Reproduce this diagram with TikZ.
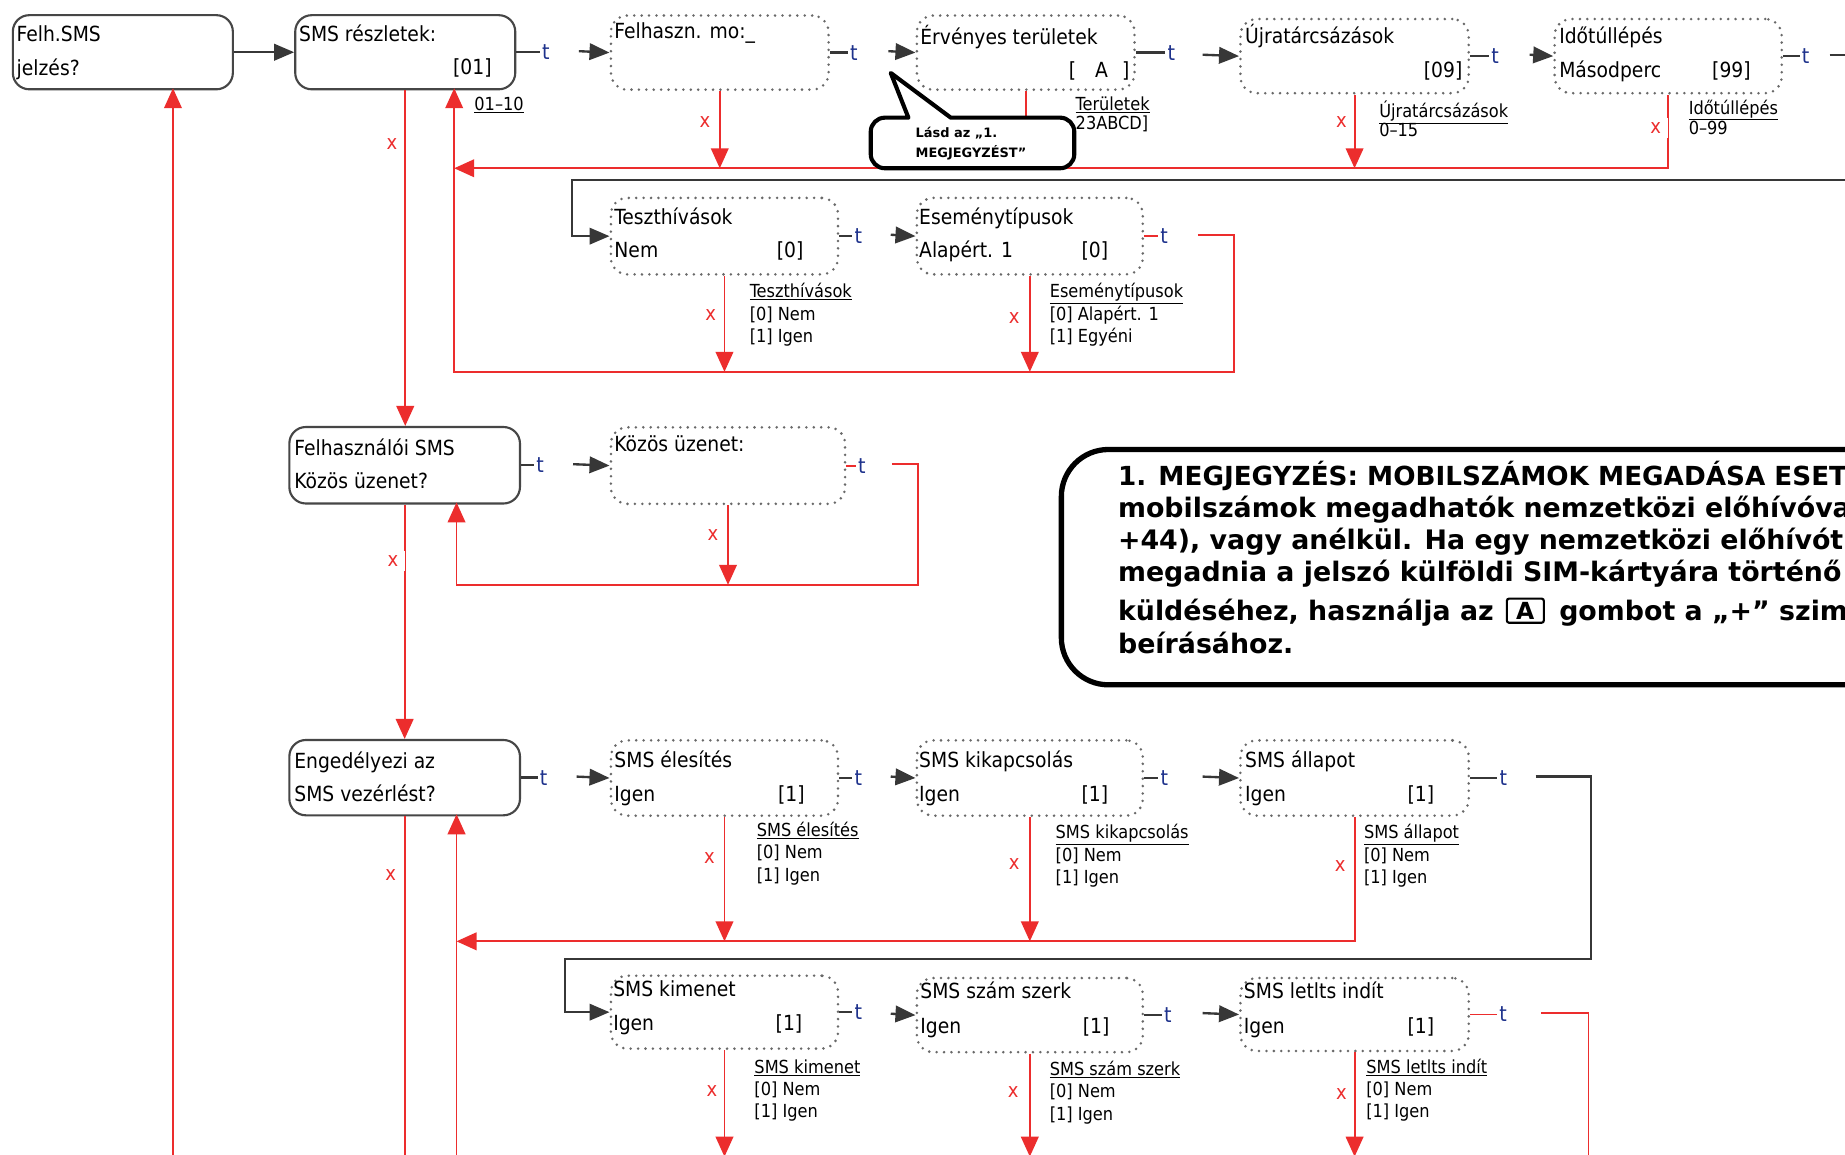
\documentclass[tikz,border=0pt]{standalone}
\usepackage{fontspec}
\setmainfont{DejaVu Sans Condensed}
\newfontfamily\boldsans{DejaVu Sans}
\usetikzlibrary{arrows.meta,calc}
\definecolor{myred}{RGB}{236,45,45}
\definecolor{boxgray}{RGB}{70,70,70}
\definecolor{dotgray}{RGB}{105,105,105}
\definecolor{lingray}{RGB}{55,55,55}
\definecolor{tblue}{RGB}{30,50,140}
\tikzset{
 solidbox/.style={draw=boxgray, line width=1.8pt, rounded corners=14pt, fill=white, inner sep=0pt},
 dotbox/.style={draw=dotgray, line width=2.4pt, dash pattern=on 0pt off 6.3pt, line cap=round, rounded corners=14pt, fill=white, inner sep=0pt},
 blk/.style={draw=lingray, line width=2pt},
 redl/.style={draw=myred, line width=1.6pt},
 redarr/.style={-{Triangle[width=15pt,length=17pt]}},
 blkarr/.style={-{Triangle[width=14pt,length=17pt]}},
 txt/.style={anchor=base west, inner sep=0pt, font=\fontsize{17.7}{19}\selectfont},
 txtr/.style={txt, anchor=base east},
 lbl/.style={anchor=base west, inner sep=0pt, font=\fontsize{15.3}{17}\selectfont},
 tlab/.style={anchor=west, inner sep=1pt, text=tblue, font=\fontsize{18}{19}\selectfont},
 xlab/.style={fill=white, text=myred, inner xsep=6pt, inner ysep=4pt, font=\fontsize{17}{18}\selectfont},
 notetxt/.style={anchor=base west, inner sep=0pt, font=\boldsans\bfseries\fontsize{22.8}{26}\selectfont},
 calltxt/.style={anchor=base west, inner sep=0pt, font=\boldsans\bfseries\fontsize{11}{13}\selectfont},
 keybox/.style={draw=black, line width=1.8pt, rounded corners=2pt, inner xsep=8pt, inner ysep=3pt, font=\boldsans\bfseries\fontsize{20}{22}\selectfont}
}
\newcommand\mkbox[6]{\node[#2, anchor=north west, minimum width={(#5-#3)*1pt}, minimum height={(#6-#4)*1pt}] (#1) at (#3,#4) {};}
\newcommand\optlbl[6]{\node[lbl] (#1a) at (#2,#3) {\underline{#4}};
 \node[lbl] (#1b) at (#2,#3+19) {#5};
 \node[lbl] (#1c) at (#2,#3+38) {#6};}
\begin{document}
\begin{tikzpicture}[x=1pt,y=-1pt]
\useasboundingbox (0,0) rectangle (1568,981);
\clip (0,0) rectangle (1568,981);
\fill[white] (0,0) rectangle (1568,981);

% ---------- boxes
\mkbox{A}{solidbox}{10}{12}{197}{75}
\mkbox{B}{solidbox}{250}{12}{437}{75}
\mkbox{C}{dotbox}{518}{12}{703}{75}
\mkbox{D}{dotbox}{778}{12}{963}{75}
\mkbox{E}{dotbox}{1053}{15}{1247}{78}
\mkbox{F}{dotbox}{1320}{15}{1513}{78}
\mkbox{G}{dotbox}{518}{167}{711}{232}
\mkbox{H}{dotbox}{778}{167}{970}{232}
\mkbox{I}{solidbox}{245}{362}{441}{427}
\mkbox{J}{dotbox}{518}{362}{717}{427}
\mkbox{K}{solidbox}{245}{628}{441}{692}
\mkbox{L}{dotbox}{518}{628}{711}{692}
\mkbox{M}{dotbox}{778}{628}{970}{692}
\mkbox{N}{dotbox}{1053}{628}{1247}{692}
\mkbox{O}{dotbox}{518}{828}{711}{890}
\mkbox{P}{dotbox}{778}{830}{970}{893}
\mkbox{Q}{dotbox}{1053}{830}{1247}{892}

% ---------- box texts
\node[txt] (A1) at (14,35) {Felh.SMS};
\node[txt] (A2) at (14,64) {jelzés?};
\node[txt] (B1) at (254,35) {SMS részletek:};
\node[txtr] (B2) at (418,63) {[01]};
\node[txt] (C1) at (522,33) {Felhaszn. mo:\_};
\node[txt] (D1) at (782,38) {Érvényes területek};
\node[txtr] (D2) at (960,66) {[\hspace{16pt}A\hspace{12pt}]};
\node[txt] (E1) at (1058,37) {Újratárcsázások};
\node[txtr] (E2) at (1243,66) {[09]};
\node[txt] (F1) at (1325,37) {Időtúllépés};
\node[txt] (F2) at (1325,66) {Másodperc};
\node[txtr] (F3) at (1488,66) {[99]};
\node[txt] (G1) at (522,191) {Teszthívások};
\node[txt] (G2) at (522,219) {Nem};
\node[txtr] (G3) at (683,219) {[0]};
\node[txt] (H1) at (781,191) {Eseménytípusok};
\node[txt] (H2) at (781,219) {Alapért. 1};
\node[txtr] (H3) at (942,219) {[0]};
\node[txt] (I1) at (250,387) {Felhasználói SMS};
\node[txt] (I2) at (250,415) {Közös üzenet?};
\node[txt] (J1) at (522,384) {Közös üzenet:};
\node[txt] (K1) at (250,653) {Engedélyezi az};
\node[txt] (K2) at (250,681) {SMS vezérlést?};
\node[txt] (L1) at (522,652) {SMS élesítés};
\node[txt] (L2) at (522,681) {Igen};
\node[txtr] (L3) at (684,681) {[1]};
\node[txt] (M1) at (781,652) {SMS kikapcsolás};
\node[txt] (M2) at (781,681) {Igen};
\node[txtr] (M3) at (942,681) {[1]};
\node[txt] (N1) at (1058,652) {SMS állapot};
\node[txt] (N2) at (1058,681) {Igen};
\node[txtr] (N3) at (1219,681) {[1]};
\node[txt] (O1) at (521,847) {SMS kimenet};
\node[txt] (O2) at (521,876) {Igen};
\node[txtr] (O3) at (682,876) {[1]};
\node[txt] (P1) at (782,849) {SMS szám szerk};
\node[txt] (P2) at (782,878) {Igen};
\node[txtr] (P3) at (943,878) {[1]};
\node[txt] (Q1) at (1057,849) {SMS letlts indít};
\node[txt] (Q2) at (1057,878) {Igen};
\node[txtr] (Q3) at (1219,878) {[1]};

% ---------- option labels
\node[lbl] (Bl) at (403,94) {\underline{01–10}};
\node[lbl] (Dla) at (914,94) {\underline{Területek}};
\node[lbl] (Dlb) at (914,110) {23ABCD]};
\node[lbl] (Ela) at (1172,100) {\underline{Újratárcsázások}};
\node[lbl] (Elb) at (1172,116) {0–15};
\node[lbl] (Fla) at (1435,97) {\underline{Időtúllépés}};
\node[lbl] (Flb) at (1435,114) {0–99};
\optlbl{Gl}{637}{253}{Teszthívások}{[0] Nem}{[1] Igen}
\optlbl{Hl}{892}{253}{Eseménytípusok}{[0] Alapért. 1}{[1] Egyéni}
\optlbl{Ll}{643}{711}{SMS élesítés}{[0] Nem}{[1] Igen}
\optlbl{Ml}{897}{713}{SMS kikapcsolás}{[0] Nem}{[1] Igen}
\optlbl{Nl}{1159}{713}{SMS állapot}{[0] Nem}{[1] Igen}
\optlbl{Ol}{641}{912}{SMS kimenet}{[0] Nem}{[1] Igen}
\optlbl{Pl}{892}{914}{SMS szám szerk}{[0] Nem}{[1] Igen}
\optlbl{Ql}{1161}{912}{SMS letlts indít}{[0] Nem}{[1] Igen}

% ---------- coordinates
\coordinate (row1) at (0,143);
\coordinate (row2) at (0,316);
\coordinate (row3) at (0,497);
\coordinate (row4) at (0,800);
\coordinate (bot) at (0,990);
\coordinate (c0) at (492,43.5);
\coordinate (d0) at (755,43.5);
\coordinate (e0) at (1022,46.5);
\coordinate (f0) at (1300,46.5);
\coordinate (fout) at (1555,46.5);
\coordinate (foutE) at (1600,46.5);
\coordinate (gin) at (1600,153);
\coordinate (g0) at (486,153);
\coordinate (h0) at (757,199.5);
\coordinate (h1) at (1018,199.5);
\coordinate (h2) at (1049,199.5);
\coordinate (h3) at (1049,316);
\coordinate (ret1) at (386,143);
\coordinate (ret1b) at (386,316);
\coordinate (bret) at (386,75);
\coordinate (j0) at (487,394.5);
\coordinate (j1) at (758,394.5);
\coordinate (j2) at (780,394.5);
\coordinate (j3) at (780,497);
\coordinate (j4) at (388,497);
\coordinate (iret) at (388,427);
\coordinate (l0) at (490,660);
\coordinate (m0) at (757,660);
\coordinate (n0) at (1022,660);
\coordinate (n1) at (1305,660);
\coordinate (n2) at (1352,660);
\coordinate (n3) at (1352,815);
\coordinate (o0) at (480,815);
\coordinate (ret4) at (388,800);
\coordinate (kret) at (388,692);
\coordinate (kretb) at (388,990);
\coordinate (aret) at (147,75);
\coordinate (aretb) at (147,990);
\coordinate (p0) at (757,861.5);
\coordinate (q0) at (1022,861);
\coordinate (q1) at (1310,861);
\coordinate (q2) at (1350,861);
\coordinate (q3) at (1350,990);

% ---------- black connectors
\draw[blk, blkarr] (A.east) -- (B.west);
\draw[blk] (B.east) -- ++(20,0) node[tlab] (tB) {t};
\draw[blk, blkarr] (c0) -- (C.west);
\draw[blk] (C.east) -- ++(15,0) node[tlab] (tC) {t};
\draw[blk, blkarr] (d0) -- (D.west);
\draw[blk] (D.east) -- ++(25,0) node[tlab] (tD) {t};
\draw[blk, blkarr] (e0) -- (E.west);
\draw[blk] (E.east) -- ++(16,0) node[tlab] (tE) {t};
\draw[blk, blkarr] (f0) -- (F.west);
\draw[blk] (F.east) -- ++(14,0) node[tlab] (tF) {t};
\draw[blk] (fout) -- (foutE);
\draw[blk, blkarr] (gin) -- (g0) -- (g0 |- G.west) -- (G.west);
\draw[blk] (G.east) -- ++(11,0) node[tlab] (tG) {t};
\draw[blk, blkarr] (h0) -- (H.west);
\draw[blk] (I.east) -- ++(11,0) node[tlab] (tI) {t};
\draw[blk, blkarr] (j0) -- (J.west);
\draw[blk] (K.east) -- ++(14,0) node[tlab] (tK) {t};
\draw[blk, blkarr] (l0) -- (L.west);
\draw[blk] (L.east) -- ++(11,0) node[tlab] (tL) {t};
\draw[blk, blkarr] (m0) -- (M.west);
\draw[blk] (M.east) -- ++(12,0) node[tlab] (tM) {t};
\draw[blk, blkarr] (n0) -- (N.west);
\draw[blk] (N.east) -- ++(23,0) node[tlab] (tN) {t};
\draw[blk, blkarr] (n1) -- (n2) -- (n3) -- (o0) -- (o0 |- O.west) -- (O.west);
\draw[blk] (O.east) -- ++(11,0) node[tlab] (tO) {t};
\draw[blk, blkarr] (p0) -- (P.west);
\draw[blk] (P.east) -- ++(15,0) node[tlab] (tP) {t};
\draw[blk, blkarr] (q0) -- (Q.west);

% ---------- red connectors
\draw[redl] (H.east) -- ++(12,0) node[tlab] (tH) {t};
\draw[redl] (J.east) -- ++(8,0) node[tlab] (tJ) {t};
\draw[redl] (Q.east) -- ++(23,0) node[tlab] (tQ) {t};
\draw[redl, redarr] (B.south) -- (B.south |- I.north);
\draw[redl, redarr] (C.south) -- (C.south |- row1);
\draw[redl, redarr] (D.south) -- (D.south |- row1);
\draw[redl, redarr] (E.south) -- (E.south |- row1);
\draw[redl, redarr] (F.south) -- (F.south |- row1) -- (ret1);
\draw[redl, redarr] (h1) -- (h2) -- (h3) -- (ret1b) -- (bret);
\draw[redl, redarr] (G.south) -- (G.south |- row2);
\draw[redl, redarr] (H.south) -- (H.south |- row2);
\draw[redl, redarr] (I.south) -- (I.south |- K.north);
\draw[redl, redarr] (j1) -- (j2) -- (j3) -- (j4) -- (iret);
\draw[redl, redarr] (J.south) -- (J.south |- row3);
\draw[redl, redarr] (L.south) -- (L.south |- row4);
\draw[redl, redarr] (M.south) -- (M.south |- row4);
\draw[redl, redarr] (N.south) -- (N.south |- row4) -- (ret4);
\draw[redl, redarr] (kretb) -- (kret);
\draw[redl] (K.south) -- (K.south |- bot);
\draw[redl, redarr] (aretb) -- (aret);
\draw[redl, redarr] (O.south) -- ($(O.south |- bot)+(0,-7)$);
\draw[redl, redarr] (P.south) -- ($(P.south |- bot)+(0,-7)$);
\draw[redl, redarr] (Q.south) -- ($(Q.south |- bot)+(0,-7)$);
\draw[redl] (q1) -- (q2) -- (q3);

% ---------- x marks
\node[xlab] (xB) at (333,122) {x};
\node[xlab] (xC) at (599,104) {x};
\node[xlab] (xE) at (1140,104) {x};
\node[xlab] (xF) at (1407,109) {x};
\node[xlab] (xG) at (604,268) {x};
\node[xlab] (xH) at (862,270) {x};
\node[xlab] (xI) at (334,477) {x};
\node[xlab] (xJ) at (606,455) {x};
\node[xlab] (xK) at (332,744) {x};
\node[xlab] (xL) at (603,729) {x};
\node[xlab] (xM) at (862,734) {x};
\node[xlab] (xN) at (1139,736) {x};
\node[xlab] (xO) at (605,927) {x};
\node[xlab] (xP) at (861,928) {x};
\node[xlab] (xQ) at (1140,930) {x};

% ---------- callout
\draw[line width=3.5pt, fill=white, line join=round] (757,62) -- (808,100) [rounded corners=12pt] -- (913,100) -- (913,143) -- (740,143) -- (740,100) [sharp corners] -- (772,100) -- cycle;
\node[calltxt] (cl1) at (778,117) {Lásd az „1.};
\node[calltxt] (cl2) at (778,134) {MEGJEGYZÉST”};

% ---------- note
\draw[line width=4.5pt, fill=white, rounded corners=40pt] (902,382) rectangle (1660,582);
\node[notetxt, font=\boldsans\bfseries\fontsize{22.3}{26}\selectfont] (n1) at (950,413) {1. MEGJEGYZÉS: MOBILSZÁMOK MEGADÁSA ESET};
\node[notetxt] (n2) at (950,440) {mobilszámok megadhatók nemzetközi előhívóva};
\node[notetxt] (n3) at (950,467) {+44), vagy anélkül. Ha egy nemzetközi előhívót};
\node[notetxt] (n4) at (950,494) {megadnia a jelszó külföldi SIM-kártyára történő};
\node[notetxt] (n5) at (950,527) {küldéséhez, használja az};
\node[keybox, anchor=west] (key) at ($(n5.base east)+(10,-8)$) {A};
\path (key.east) ++(12,0) coordinate (k1);
\node[notetxt] (n6) at (k1 |- n5.base) {gombot a „+” szim};
\node[notetxt] (n7) at (950,555) {beírásához.};
\end{tikzpicture}
\end{document}
